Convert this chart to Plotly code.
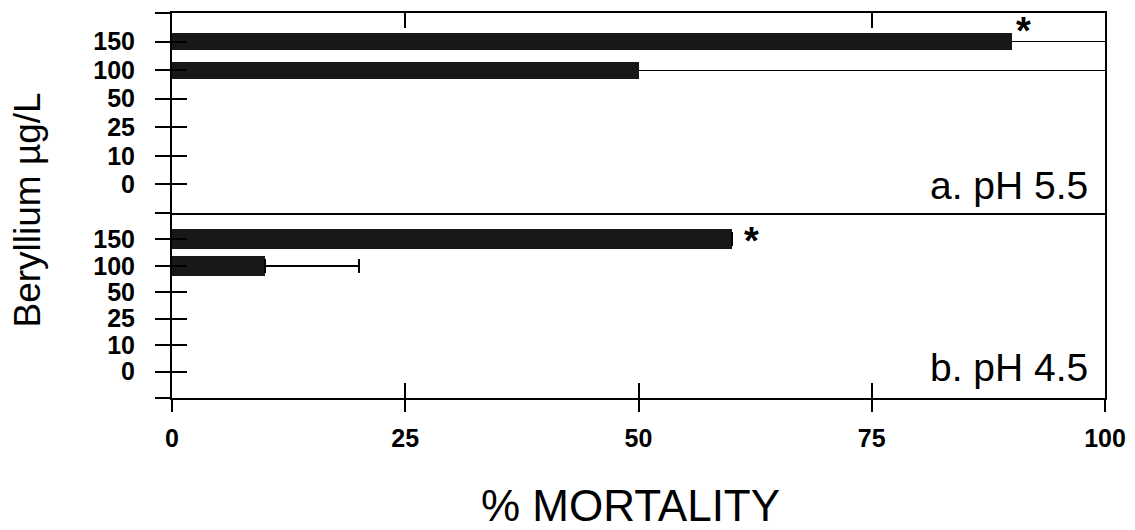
import plotly.graph_objects as go

# ---- data ----
concentrations = ["0", "10", "25", "50", "100", "150"]
mortality_ph55 = [0, 0, 0, 0, 50, 90]
mortality_ph45 = [0, 0, 0, 0, 10, 60]
error_ph45 = [None, None, None, None, 10, None]
signif_ph55 = [False, False, False, False, False, True]
signif_ph45 = [False, False, False, False, False, True]
x_ticks = [0, 25, 50, 75, 100]
panel_labels = ["a. pH 5.5", "b. pH 4.5"]

pos = list(range(len(concentrations)))
FONT = "Liberation Sans"
BAR = "#181818"


def keep(vals):
    return [v if v > 0 else None for v in vals]


fig = go.Figure()

# top panel (pH 5.5)
fig.add_trace(go.Bar(
    x=keep(mortality_ph55), y=pos, orientation="h", width=0.6,
    marker=dict(color=BAR, line=dict(width=0)),
    xaxis="x2", yaxis="y2", showlegend=False))

# bottom panel (pH 4.5)
fig.add_trace(go.Bar(
    x=keep(mortality_ph45), y=pos, orientation="h", width=0.76,
    marker=dict(color=BAR, line=dict(width=0)),
    error_x=dict(type="data", symmetric=False, array=error_ph45,
                 arrayminus=[0] * len(pos), color="black", thickness=2, width=7),
    xaxis="x", yaxis="y", showlegend=False))

# empty helper traces so that the overlay (tick/grid) axes get drawn
for xa, ya in [("x", "y3"), ("x2", "y4"), ("x2", "y5"), ("x3", "y2"), ("x4", "y")]:
    fig.add_trace(go.Scatter(x=[None], y=[None], xaxis=xa, yaxis=ya,
                             showlegend=False, hoverinfo="skip", mode="markers"))

annotations = []
for v, p, s in zip(mortality_ph55, pos, signif_ph55):
    if s:
        annotations.append(dict(x=v, y=p, xref="x2", yref="y2", text="<b>*</b>",
                                showarrow=False, xanchor="left", yanchor="middle",
                                xshift=2, yshift=11, font=dict(size=38, family=FONT, color="black")))
for v, p, s in zip(mortality_ph45, pos, signif_ph45):
    if s:
        annotations.append(dict(x=v, y=p, xref="x", yref="y", text="<b>*</b>",
                                showarrow=False, xanchor="left", yanchor="middle",
                                xshift=10, yshift=-2, font=dict(size=38, family=FONT, color="black")))

annotations += [
    dict(x=0.984, y=0.553, xref="paper", yref="paper", text=panel_labels[0], showarrow=False,
         xanchor="right", yanchor="middle", font=dict(size=39, family=FONT, color="black")),
    dict(x=0.984, y=0.078, xref="paper", yref="paper", text=panel_labels[1], showarrow=False,
         xanchor="right", yanchor="middle", font=dict(size=39, family=FONT, color="black")),
    dict(x=-0.155, y=0.488, xref="paper", yref="paper", text="Beryllium µg/L", showarrow=False,
         textangle=-90, xanchor="center", yanchor="middle", font=dict(size=37, family=FONT, color="black")),
    dict(x=0.491, y=-0.278, xref="paper", yref="paper", text="% MORTALITY", showarrow=False,
         xanchor="center", yanchor="middle", font=dict(size=44, family=FONT, color="black")),
]

split = 0.4805
tickvals_y = [-1] + pos + [len(pos)]
ticktext_y = [""] + concentrations + [""]
tickfont = dict(size=25, family=FONT, color="black", weight="bold")

common_y = dict(range=[-1, len(pos)], tickvals=tickvals_y, ticktext=ticktext_y,
                ticks="outside", ticklen=15, tickwidth=2, tickcolor="black",
                showline=True, linewidth=2, linecolor="black", mirror=True,
                showgrid=False, zeroline=False, tickfont=tickfont, ticklabelstandoff=15,
                automargin=False)
inner_y = dict(range=[-1, len(pos)], tickvals=pos, ticks="inside", ticklen=15, tickwidth=2,
               tickcolor="black", showticklabels=False, showgrid=False, zeroline=False,
               showline=False, automargin=False)

# the page adds an 8px body margin, so the plot area is placed 8px up/left
fig.update_layout(
    width=1135, height=530,
    margin=dict(l=164, r=38, t=5, b=140),
    paper_bgcolor="white", plot_bgcolor="white",
    bargap=0,
    annotations=annotations,
    xaxis=dict(domain=[0, 1], anchor="y", range=[0, 100], tickvals=x_ticks,
               ticks="outside", ticklen=12, tickwidth=2, tickcolor="black",
               showline=True, linewidth=2, linecolor="black", mirror=False,
               showgrid=False, zeroline=False, tickfont=tickfont, ticklabelstandoff=5,
               automargin=False),
    xaxis2=dict(domain=[0, 1], anchor="y2", range=[0, 100], matches="x",
                showticklabels=False, ticks="", showline=True, linewidth=2,
                linecolor="black", mirror=True, showgrid=False, zeroline=False,
                automargin=False),
    xaxis3=dict(overlaying="x2", anchor="y2", side="top", range=[0, 100],
                tickvals=[x_ticks[1], x_ticks[3]], ticks="inside", ticklen=15, tickwidth=2,
                tickcolor="black", showticklabels=False, showgrid=False, zeroline=False,
                showline=False, automargin=False),
    xaxis4=dict(overlaying="x", anchor="y", range=[0, 100], tickvals=x_ticks[1:4],
                ticks="inside", ticklen=15, tickwidth=2, tickcolor="black",
                showticklabels=False, showgrid=False, zeroline=False, showline=False,
                automargin=False),
    yaxis=dict(domain=[0, split], anchor="x", **common_y),
    yaxis2=dict(domain=[split, 1], anchor="x2", **common_y),
    yaxis3=dict(overlaying="y", anchor="x", **inner_y),
    yaxis4=dict(overlaying="y2", anchor="x2", **inner_y),
    yaxis5=dict(overlaying="y2", anchor="x2", range=[-1, len(pos)],
                tickvals=[p for p, v in zip(pos, mortality_ph55) if v > 0],
                ticks="", showticklabels=False, showgrid=True, gridcolor="black",
                gridwidth=1, zeroline=False, showline=False, automargin=False),
)

fig.write_html("out.html")
